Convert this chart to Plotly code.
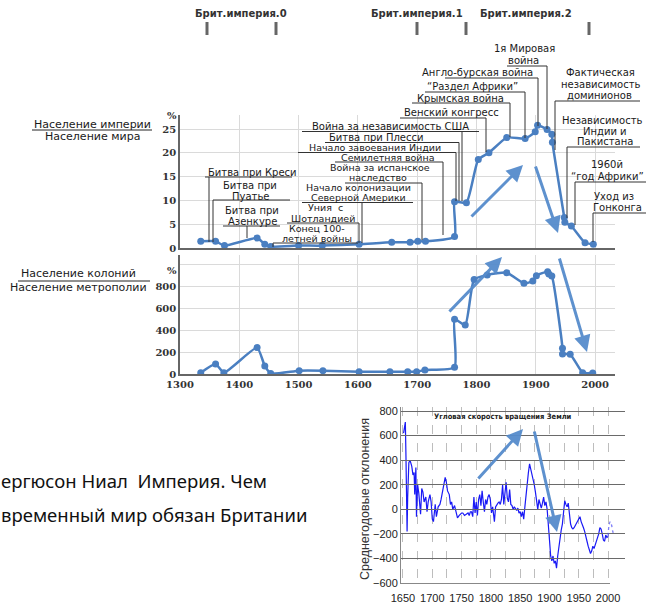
import plotly.graph_objects as go

# ---------------- DATA ----------------
# British empire population as % of world population
top_years = [1335, 1360, 1375, 1430, 1443, 1453, 1500, 1540, 1602, 1657, 1688, 1701, 1714,
             1763, 1763, 1783, 1803, 1821, 1851, 1882, 1899, 1903, 1919, 1927, 1928,
             1948, 1949, 1960, 1983, 1997]
top_share = [1.4, 1.4, 0.5, 2.1, 0.8, 0.3, 0.5, 0.5, 0.8, 1.2, 1.2, 1.4, 1.4,
             2.4, 9.7, 9.5, 18.6, 20.0, 23.2, 23.0, 24.4, 25.8, 24.9, 23.9, 22.2,
             6.4, 5.4, 4.6, 1.1, 0.8]

# Colonies population as % of metropolis population
col_years = [1335, 1360, 1374, 1430, 1443, 1453, 1501, 1541, 1602, 1654, 1684, 1699, 1713,
             1763, 1763, 1781, 1796, 1818, 1851, 1880, 1895, 1901, 1920, 1922, 1927,
             1945, 1945, 1958, 1979, 1996]
col_ratio = [12, 91, 12, 240, 73, 5, 30, 30, 21, 21, 21, 21, 36,
             61, 497, 445, 860, 900, 921, 824, 845, 894, 930, 909, 891,
             233, 182, 179, 12, 8]

# Earth rotation angular speed, annual mean deviation
rot_years = [1651, 1654, 1655, 1656, 1657, 1658, 1660, 1662, 1665, 1667, 1669, 1670, 1672, 1673,
             1675, 1677, 1680, 1682, 1684, 1686, 1689, 1691, 1693, 1696, 1698, 1700, 1702, 1705,
             1707, 1710, 1713, 1715, 1718, 1722, 1724, 1726, 1729, 1731, 1733, 1735, 1738, 1741,
             1743, 1746, 1748, 1750, 1752, 1755, 1758, 1761, 1763, 1765, 1767, 1769, 1771, 1773,
             1775, 1777, 1779, 1781, 1783, 1785, 1787, 1789, 1791, 1793, 1795, 1797, 1799, 1801,
             1803, 1805, 1806, 1808, 1810, 1812, 1814, 1816, 1818, 1820, 1822, 1824, 1826, 1828,
             1830, 1832, 1834, 1836, 1838, 1840, 1842, 1844, 1846, 1848, 1850, 1852, 1854, 1856,
             1858, 1860, 1862, 1864, 1866, 1868, 1870, 1872, 1874, 1876, 1878, 1880, 1882, 1884,
             1886, 1888, 1890, 1892, 1894, 1896, 1898, 1900, 1902, 1904, 1906, 1908, 1910, 1912,
             1914, 1916, 1918, 1920, 1922, 1924, 1926, 1928, 1930, 1932, 1934, 1936, 1938, 1940,
             1942, 1944, 1946, 1948, 1950, 1952, 1954, 1956, 1958, 1960, 1962, 1964, 1966, 1968,
             1970, 1972, 1974, 1976, 1978, 1980, 1982, 1984, 1986, 1988, 1990, 1992, 1994, 1996,
             1998, 2000]
rot_dev = [620, 710, 450, 150, -180, 100, 380, 400, 350, 280, 300, 120, 340, -60,
           200, 130, -40, 170, 140, 60, 100, -20, 60, 120, 60, -80, -100, 40,
           -60, 20, 40, 80, 160, 260, 220, 150, 120, 40, 60, 0, 30, -30,
           -70, -50, -40, -30, -30, -50, -40, -30, -50, -20, -20, -60, 100, -30,
           60, -50, 80, 120, 30, 150, 60, -20, 80, 40, 100, 120, 80, -30,
           20, -80, -100, 20, 40, 50, 60, 40, 80, 200, 40, 110, 220, 90,
           60, 160, 40, 30, 0, 20, 0, -10, 10, -30, -20, -60, -20, -80,
           20, 130, 180, 300, 370, 330, 280, 250, 200, 140, 80, 0, 80, 30,
           10, 50, 100, 30, 60, 0, -100, -250, -380, -420, -380, -440, -420, -480,
           -380, -300, -220, -170, -120, 20, 70, 40, 20, 50, -40, -120, -150, -160,
           -150, -130, -120, -100, -80, -60, -100, -120, -150, -180, -210, -260, -300, -330,
           -360, -340, -300, -320, -290, -270, -240, -200, -150, -160, -200, -250, -260, -210,
           -230, -220]
rot_ext_years = [2000, 2002, 2004, 2006, 2008, 2010]
rot_ext_dev = [-220, -120, -100, -130, -180, -210]

century_ticks = [1300, 1400, 1500, 1600, 1700, 1800, 1900, 2000]
top_ticks = [0, 5, 10, 15, 20, 25]
col_ticks = [0, 200, 400, 600, 800, 1000]
col_ticktext = ["0", "200", "400", "600", "800", ""]
rot_ticks = [-600, -400, -200, 0, 200, 400, 600, 800]
rot_xticks = [1650, 1675, 1700, 1725, 1750, 1775, 1800, 1825, 1850, 1875, 1900, 1925, 1950, 1975, 2000]
rot_xticktext = ["1650", "", "1700", "", "1750", "", "1800", "", "1850", "", "1900", "", "1950", "", "2000"]

# ---------------- LAYOUT HELPERS ----------------
W, H = 647, 608
def X(px):
    return px / W
def Y(py):
    return 1 - py / H

BLUE = "rgb(74,127,193)"
ARROW = "rgba(86,140,204,0.95)"
SANS = "DejaVu Sans, Arial, sans-serif"
LSANS = "Liberation Sans, Arial, sans-serif"
SERIF = "DejaVu Serif, serif"
TXT = "#1a1a1a"

fig = go.Figure()

fig.add_trace(go.Scatter(x=top_years, y=top_share, mode="lines+markers",
                         line=dict(color=BLUE, width=2.5, shape="spline", smoothing=0.5),
                         marker=dict(size=7, color=BLUE), xaxis="x", yaxis="y",
                         showlegend=False, hoverinfo="skip"))
fig.add_trace(go.Scatter(x=col_years, y=col_ratio, mode="lines+markers",
                         line=dict(color=BLUE, width=2.5, shape="spline", smoothing=0.5),
                         marker=dict(size=7, color=BLUE), xaxis="x2", yaxis="y2",
                         showlegend=False, hoverinfo="skip"))
fig.add_trace(go.Scatter(x=rot_years, y=rot_dev, mode="lines",
                         line=dict(color="rgb(25,25,245)", width=1.2),
                         xaxis="x3", yaxis="y3", showlegend=False, hoverinfo="skip"))
fig.add_trace(go.Scatter(x=rot_ext_years, y=rot_ext_dev, mode="lines",
                         line=dict(color="rgba(70,70,245,0.7)", width=1.3, dash="dot", shape="spline"),
                         xaxis="x4", yaxis="y3", showlegend=False, hoverinfo="skip"))

px_per_year = 0.593
x_range = [1300, 1300 + (615 - 180) / px_per_year]
tick_font_serif = dict(family=SERIF, size=10, color="#333", weight="bold")

layout = dict(
    width=W, height=H, margin=dict(l=0, r=0, t=0, b=0, autoexpand=False),
    paper_bgcolor="white", plot_bgcolor="rgba(0,0,0,0)",
    xaxis=dict(domain=[X(180), X(615)], range=x_range, anchor="y",
               tickmode="array", tickvals=century_ticks, showticklabels=False,
               showgrid=True, gridcolor="#dadada", gridwidth=1, zeroline=False,
               showline=True, linecolor="#666", linewidth=1.5, ticks=""),
    yaxis=dict(domain=[Y(248), Y(115)], range=[0, (248 - 115) / 4.76], anchor="x",
               tickmode="array", tickvals=top_ticks, tickfont=tick_font_serif,
               showgrid=True, gridcolor="#dadada", zeroline=False,
               showline=True, linecolor="#666", linewidth=1.5, ticks=""),
    xaxis2=dict(domain=[X(180), X(615)], range=x_range, anchor="y2",
                tickmode="array", tickvals=century_ticks, tickfont=tick_font_serif,
                showgrid=True, gridcolor="#dadada", zeroline=False,
                showline=True, linecolor="#666", linewidth=1.5, ticks=""),
    yaxis2=dict(domain=[Y(374), Y(255)], range=[0, (374 - 255) / 0.11], anchor="x2",
                tickmode="array", tickvals=col_ticks, ticktext=col_ticktext,
                tickfont=tick_font_serif,
                showgrid=True, gridcolor="#dadada", zeroline=False,
                showline=True, linecolor="#666", linewidth=1.5, ticks=""),
    xaxis3=dict(domain=[X(401), X(610)], range=[1646.6, 1646.6 + (610 - 401) / 0.586],
                anchor="y3", tickmode="array", tickvals=rot_xticks, ticktext=rot_xticktext,
                tickfont=dict(family=LSANS, size=11, color="#222"), ticklabelstandoff=5,
                showgrid=True, gridcolor="#bdbdbd", griddash="dash",
                zeroline=False, showline=True, linecolor="#888", linewidth=1, ticks=""),
    yaxis3=dict(domain=[Y(583), Y(407)], range=[-600, 833], anchor="x3",
                tickmode="array", tickvals=rot_ticks,
                tickfont=dict(family=LSANS, size=11, color="#222"),
                showgrid=True, gridcolor="#6a6a6a", gridwidth=1, zeroline=False,
                showline=True, linecolor="#888", linewidth=1, ticks=""),
    xaxis4=dict(domain=[X(401), X(625)], range=[1646.6, 1646.6 + (625 - 401) / 0.586],
                anchor="y3", visible=False),
)
fig.update_layout(**layout)

annotations = []
shapes = []

def text(t, cx, cy, size=10, family=SANS, color=TXT, anchor="center", weight="normal", angle=0):
    annotations.append(dict(text=t, x=X(cx), y=Y(cy), xref="paper", yref="paper",
                            xanchor=anchor, yanchor="middle", showarrow=False,
                            textangle=angle, borderpad=0,
                            font=dict(family=family, size=size, color=color, weight=weight)))

def line(x0, y0, x1, y1, color="#333", width=1):
    shapes.append(dict(type="line", xref="paper", yref="paper",
                       x0=X(x0), y0=Y(y0), x1=X(x1), y1=Y(y1),
                       line=dict(color=color, width=width)))

def arrow(tx, ty, hx, hy):
    annotations.append(dict(text="", x=X(hx), y=Y(hy), xref="paper", yref="paper",
                            ax=tx - hx, ay=ty - hy, axref="pixel", ayref="pixel",
                            showarrow=True, arrowhead=2, arrowsize=1.1, arrowwidth=3,
                            arrowcolor=ARROW))

# Top period labels and bars
text("Брит.империя.0", 241, 14, size=10, weight="bold", color="#333")
text("Брит.империя.1", 417, 14, size=10, weight="bold", color="#333")
text("Брит.империя.2", 526, 14, size=10, weight="bold", color="#333")
for bx in [207, 276, 417, 466, 589]:
    line(bx, 22, bx, 35, color="#666", width=3)

# Axis side labels
text("%", 172, 115, size=10, family=SERIF, color="#333", weight="bold")
text("%", 172, 270, size=10, family=SERIF, color="#333", weight="bold")
text("Население империи", 92, 124, size=11)
line(32, 130, 152, 130, color="#222", width=1)
text("Население мира", 92, 136, size=11)
text("Население колоний", 78, 274, size=11)
line(18, 281, 150, 281, color="#222", width=1)
text("Население метрополии", 78, 287, size=11)

# Event labels with leader lines: (lines, line centres, underline, leader, font size)
events = [
    (["Битва при Креси"], [(252, 172)], (177, 205, 292), (209, 177, 242), 10),
    (["Битва при", "Пуатье"], [(250, 185), (250, 196)], (200, 213, 290), (213, 200, 242), 10),
    (["Битва при", "Азенкуре"], [(252, 210), (252, 221)], (226, 223, 280), (247, 226, 238), 10),
    (["Конец 100-", "летней войны"], [(317, 228), (317, 238)], (243, 273, 358), (273, 243, 247), 9.5),
    (["Уния  с", "Шотландией"], [(325, 208), (323, 218)], (223, 287, 359), (359, 223, 243), 9.5),
    (["Начало колонизации", "Северной Америки"], [(358, 187), (358, 197.5)], (202.5, 302, 413), (362, 202.5, 243), 9.5),
    (["Война за испанское", "наследство"], [(380, 167.5), (378, 177.5)], (183, 345, 422), (422, 183, 240), 9.5),
    (["Семилетняя война"], [(388, 157)], (162, 335, 443), (443, 162, 235), 9.5),
    (["Начало завоевания Индии"], [(375, 147.5)], (152.5, 298, 456), (456, 152.5, 201), 9.5),
    (["Битва при Плесси"], [(376, 137.5)], (142.5, 325, 459), (459, 142.5, 201), 10),
    (["Война за независимость США"], [(390, 126.5)], (131.5, 302, 479), (462, 131.5, 201), 10),
    (["Венский конгресс"], [(451, 113)], (118, 400, 486), (486, 118, 152), 10),
    (["Крымская война"], [(460, 98)], (103, 412, 510), (510, 103, 137), 10),
    (["\u201cРаздел Африки\u201d"], [(472, 86)], (92, 425, 525), (525, 92, 138), 10),
    (["Англо-бурская война"], [(477, 73)], (78, 445, 538), (538, 78, 126), 10),
    (["1я Мировая", "война"], [(524, 48), (523, 60)], (66, 507, 547), (547, 66, 129), 10),
    (["Фактическая", "независимость", "доминионов"], [(600, 73), (601, 84), (599, 95)], (101, 555, 640), (555, 101, 150), 10),
    (["Независимость", "Индии и", "Пакистана"], [(602, 120), (605, 131), (605, 141)], (147, 567, 640), (567, 147, 218), 10),
    (["1960й", "\u201cгод Африки\u201d"], [(607, 165), (607, 176)], (182, 575, 646), (575, 182, 225), 10),
    (["Уход из", "Гонконга"], [(614, 196), (617, 207)], (213, 593, 646), (593, 213, 242), 10),
]
for lines_, pos, ul, ld, fs in events:
    for t, (cx, cy) in zip(lines_, pos):
        text(t, cx, cy, size=fs)
    line(ul[1], ul[0], ul[2], ul[0])
    line(ld[0], ld[1], ld[0], ld[2])

# Arrows
arrow(470, 218, 523, 165)
arrow(535, 165, 558, 233)
arrow(448, 313, 502, 257)
arrow(559, 257, 587, 352)
arrow(477, 480, 523, 429)
arrow(534, 430, 557, 532)

# Right chart texts
text("Угловая скорость вращения Земли", 503, 416, size=7.5,
     family="Liberation Sans Narrow, DejaVu Sans Condensed, Arial Narrow, sans-serif",
     weight="bold", color="#222")
text("Среднегодовые отклонения", 365, 499, size=12.5, family=LSANS, color="#333", angle=-90)

# Book reference text (cut at the left edge as in the picture)
text("ергюсон Ниал \u00a0Империя. Чем", 0, 480, size=18.5, family="Noto Sans, sans-serif",
     anchor="left", color="#111")
text("временный мир обязан Британии", 0, 514, size=18.5, family="Noto Sans, sans-serif",
     anchor="left", color="#111")

fig.update_layout(annotations=annotations, shapes=shapes)
fig.write_html("out.html", config={"displayModeBar": False},
               post_script="document.body.style.margin='0';document.body.style.padding='0';")
